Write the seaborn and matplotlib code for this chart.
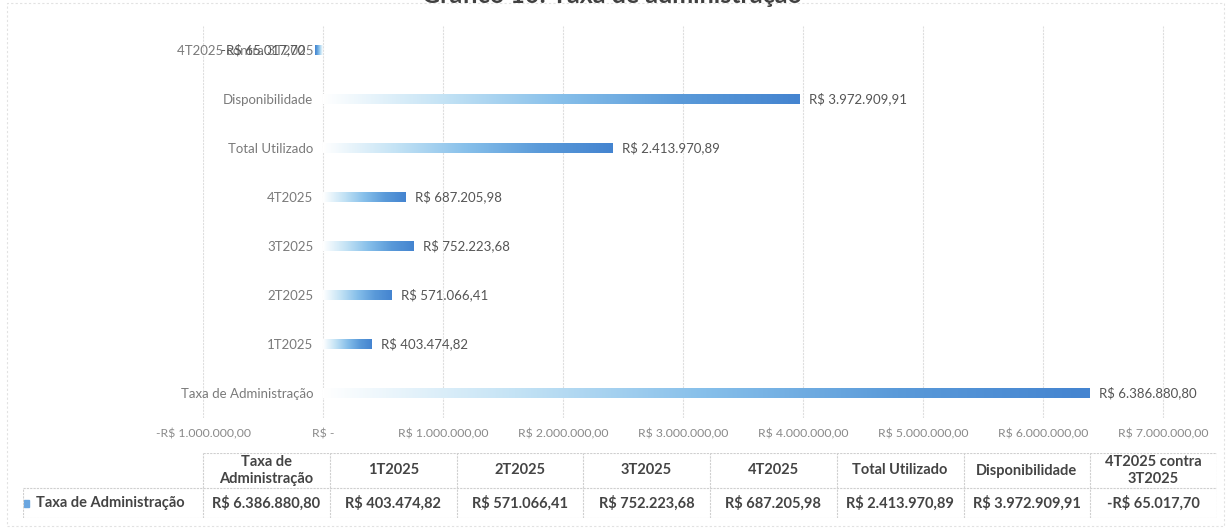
import numpy as np
import pandas as pd
import seaborn as sns
import matplotlib.pyplot as plt
from matplotlib.colors import LinearSegmentedColormap
from matplotlib.patches import Rectangle

# data (table order)
categorias = ['Taxa de Administração', '1T2025', '2T2025', '3T2025', '4T2025',
              'Total Utilizado', 'Disponibilidade', '4T2025 contra 3T2025']
cabecalhos = ['Taxa de\nAdministração', '1T2025', '2T2025', '3T2025', '4T2025',
              'Total Utilizado', 'Disponibilidade', '4T2025 contra\n3T2025']
valores = [6386880.80, 403474.82, 571066.41, 752223.68, 687205.98,
           2413970.89, 3972909.91, -65017.70]
rotulos = ['R$ 6.386.880,80', 'R$ 403.474,82', 'R$ 571.066,41', 'R$ 752.223,68',
           'R$ 687.205,98', 'R$ 2.413.970,89', 'R$ 3.972.909,91', '-R$ 65.017,70']
serie = 'Taxa de Administração'
ticks = [-1e6, 0, 1e6, 2e6, 3e6, 4e6, 5e6, 6e6, 7e6]
tick_labels = ['-R$ 1.000.000,00', 'R$ -', 'R$ 1.000.000,00', 'R$ 2.000.000,00',
               'R$ 3.000.000,00', 'R$ 4.000.000,00', 'R$ 5.000.000,00',
               'R$ 6.000.000,00', 'R$ 7.000.000,00']
titulo = 'Gráfico 10: Taxa de administração'

sns.set_style('white')
plt.rcParams['font.family'] = ['Lato', 'DejaVu Sans']

df = pd.DataFrame({'Categoria': categorias, 'Valor': valores})
ordem = categorias[::-1]  # last category on top

W, H = 1231, 529
fig = plt.figure(figsize=(W / 100, H / 100), dpi=100)
ax = fig.add_axes([203 / W, 1 - 417.5 / H, (1217 - 203) / W, (417.5 - 25.5) / H])

sns.barplot(data=df, x='Valor', y='Categoria', order=ordem, orient='h',
            width=0.2, color='#4a89d2', ax=ax, zorder=2)

ax.set_xlim(-1e6, -1e6 + (1217 - 203) / 120 * 1e6)
xl, yl = ax.get_xlim(), ax.get_ylim()

# gradient fill, white at zero -> blue at the bar end
cmap = LinearSegmentedColormap.from_list(
    'grad', ['#ffffff', '#c4e3f5', '#86bfea', '#5a9ad9', '#4484d0'])
grad = np.linspace(0, 1, 256).reshape(1, -1)
for p in ax.patches:
    x0, y0, w, h = p.get_x(), p.get_y(), p.get_width(), p.get_height()
    im = ax.imshow(grad, cmap=cmap, extent=[x0, x0 + w, y0, y0 + h],
                   aspect='auto', origin='lower', zorder=2, interpolation='bilinear')
    im.set_clip_path(p)
    p.set_facecolor('none')
    p.set_edgecolor('none')
ax.set_xlim(xl)
ax.set_ylim(yl)

# value labels
lab_map = dict(zip(categorias, rotulos))
ax.bar_label(ax.containers[0], labels=[lab_map[c] for c in ordem], padding=7,
             fontsize=9.5, color='#555555')

ax.set_xticks(ticks)
ax.set_xticklabels(tick_labels)
ax.tick_params(axis='x', length=0, pad=8, labelsize=8.8, labelcolor='#8a8a8a')
ax.tick_params(axis='y', length=0, pad=7, labelsize=9.5, labelcolor='#7a7a7a')
ax.set_xlabel('')
ax.set_ylabel('')
ax.grid(axis='x', color='#dedede', linewidth=0.8, linestyle=(0, (2, 1)))
ax.set_axisbelow(True)
for s in ax.spines.values():
    s.set_visible(False)
# category axis crosses at zero, as in Excel
ax.spines['left'].set_position(('data', 0))

# data table underneath
tax = fig.add_axes([23 / W, 1 - 518 / H, (1217 - 23) / W, (518 - 453) / H])
n = len(categorias)
lab_w = (203 - 23) / ((1217 - 203) / n)
tax.set_xlim(-lab_w, n)
tax.set_ylim(0, 65)
tax.axis('off')
lc = dict(color='#cfcfcf', linewidth=0.8, linestyle=(0, (2, 1)))
tax.plot([0, n], [65, 65], **lc)
tax.plot([-lab_w, n], [30, 30], **lc)
tax.plot([-lab_w, n], [0, 0], **lc)
for i in range(n + 1):
    tax.plot([i, i], [0, 65], **lc)
tax.plot([-lab_w, -lab_w], [0, 30], **lc)
for i, (c, v) in enumerate(zip(cabecalhos, rotulos)):
    tax.text(i + 0.5, 47.5, c, ha='center', va='center', fontsize=10.5,
             fontweight='bold', color='#444444', linespacing=1.3)
    tax.text(i + 0.5, 15, v, ha='center', va='center', fontsize=10.5,
             fontweight='bold', color='#444444')
tax.add_patch(Rectangle((-lab_w + 0.01, 11.5), 0.04, 7, color='#6aa6e0', clip_on=False))
tax.text(-lab_w + 0.1, 15, serie, ha='left', va='center', fontsize=10.5,
         fontweight='bold', color='#444444')

# chart frame and (clipped) title
fig.patches.append(Rectangle((7 / W, 3 / H), (1224 - 7) / W, (526 - 3) / H,
                             transform=fig.transFigure, fill=False,
                             edgecolor='#e2e2e2', linewidth=0.8,
                             linestyle=(0, (2, 2))))
fig.text(612 / W, 1 - 3 / H, titulo, ha='center', va='baseline', fontsize=18,
         fontweight='bold', color='#404040')

fig.savefig('out.png', dpi=100, facecolor='white')
